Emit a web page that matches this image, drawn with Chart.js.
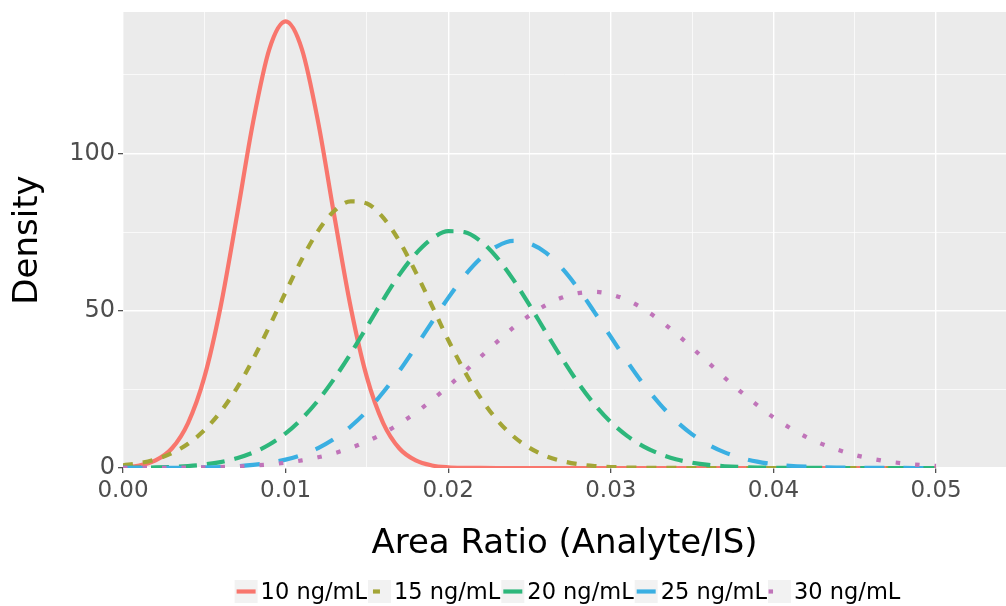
<!DOCTYPE html>
<html>
<head>
<meta charset="utf-8">
<title>Density</title>
<script src="https://cdn.jsdelivr.net/npm/chart.js@4.4.1/dist/chart.umd.min.js"></script>
<style>
  html, body { margin: 0; padding: 0; background: #ffffff; }
  #chart { display: block; }
</style>
</head>
<body>
<canvas id="chart" width="1006" height="606"></canvas>
<script>
// values
const xValues = [
  0.000, 0.001, 0.002, 0.003, 0.004, 0.005, 0.006, 0.007, 0.008, 0.009,
  0.010, 0.011, 0.012, 0.013, 0.014, 0.015, 0.016, 0.017, 0.018, 0.019,
  0.020, 0.021, 0.022, 0.023, 0.024, 0.025, 0.026, 0.027, 0.028, 0.029,
  0.030, 0.031, 0.032, 0.033, 0.034, 0.035, 0.036, 0.037, 0.038, 0.039,
  0.040, 0.041, 0.042, 0.043, 0.044, 0.045, 0.046, 0.047, 0.048, 0.049,
  0.050
];

const seriesLabels = ['10 ng/mL', '15 ng/mL', '20 ng/mL', '25 ng/mL', '30 ng/mL'];

const density10 = [
  0.24, 0.81, 2.4, 6.2, 14.3, 28.8, 51.2, 80.0, 110.0, 133.2,
  142.0, 133.2, 110.0, 80.0, 51.2, 28.8, 14.3, 6.2, 2.4, 0.81,
  0.24, 0.06, 0.01, 0, 0, 0, 0, 0, 0, 0,
  0, 0, 0, 0, 0, 0, 0, 0, 0, 0,
  0, 0, 0, 0, 0, 0, 0, 0, 0, 0,
  0
];
const density15 = [
  0.83, 1.55, 2.77, 4.72, 7.70, 12.0, 17.9, 25.4, 34.6, 45.0,
  55.9, 66.4, 75.4, 81.8, 84.8, 84.1, 79.6, 72.1, 62.3, 51.6,
  40.7, 30.8, 22.2, 15.3, 10.1, 6.4, 3.8, 2.2, 1.21, 0.64,
  0.32, 0.15, 0.07, 0.03, 0.01, 0, 0, 0, 0, 0,
  0, 0, 0, 0, 0, 0, 0, 0, 0, 0,
  0
];
const density20 = [
  0.05, 0.09, 0.18, 0.35, 0.63, 1.11, 1.88, 3.09, 4.89, 7.47,
  11.0, 15.7, 21.5, 28.5, 36.4, 44.9, 53.5, 61.5, 68.1, 72.9,
  75.3, 75.0, 72.1, 66.9, 59.9, 51.8, 43.2, 34.8, 27.0, 20.2,
  14.6, 10.2, 6.9, 4.5, 2.8, 1.70, 0.99, 0.56, 0.30, 0.16,
  0.08, 0.04, 0.02, 0.01, 0, 0, 0, 0, 0, 0,
  0
];
const density25 = [
  0.01, 0.01, 0.02, 0.05, 0.09, 0.17, 0.32, 0.57, 0.99, 1.65,
  2.67, 4.18, 6.33, 9.29, 13.2, 18.1, 24.1, 30.9, 38.5, 46.4,
  54.1, 61.1, 66.7, 70.5, 72.2, 71.4, 68.5, 63.5, 57.0, 49.5,
  41.7, 33.9, 26.7, 20.4, 15.0, 10.7, 7.4, 4.96, 3.21, 2.01,
  1.22, 0.72, 0.41, 0.22, 0.12, 0.06, 0.03, 0.01, 0.01, 0,
  0
];
const density30 = [
  0.01, 0.03, 0.05, 0.08, 0.13, 0.20, 0.32, 0.50, 0.77, 1.15,
  1.68, 2.42, 3.41, 4.71, 6.38, 8.47, 11.0, 14.1, 17.6, 21.6,
  26.0, 30.6, 35.4, 40.1, 44.6, 48.5, 51.8, 54.2, 55.6, 56.0,
  55.2, 53.4, 50.6, 47.0, 42.8, 38.2, 33.5, 28.7, 24.2, 20.0,
  16.1, 12.8, 9.9, 7.6, 5.7, 4.15, 2.98, 2.10, 1.45, 0.98,
  0.65
];

const xMajorTicks = [0, 0.01, 0.02, 0.03, 0.04, 0.05];
const xTickLabels = ['0.00', '0.01', '0.02', '0.03', '0.04', '0.05'];
const xMinorTicks = [0.005, 0.015, 0.025, 0.035, 0.045];
const yMajorTicks = [0, 50, 100];
const yTickLabels = ['0', '50', '100'];
const yMinorTicks = [25, 75, 125];

const seriesColors = ['#F8766D', '#A3A536', '#2DB77B', '#3AAFE2', '#C074B9'];
const seriesDashes = [[], [10, 10], [18, 10], [20, 19], [4.5, 15]];
// line piece drawn inside each 23px legend key
const keySegments = [[2, 21], [5, 12], [2, 21], [2, 21], [0.5, 5]];

const FONT = 'DejaVu Sans';
Chart.defaults.font.family = FONT;

function tickList(major, minor) {
  return major.map(v => ({ value: v, minor: false }))
    .concat(minor.map(v => ({ value: v, minor: true })))
    .sort((a, b) => a.value - b.value);
}

function gridOptions() {
  return {
    color: '#FFFFFF',
    lineWidth: c => (c.tick && c.tick.minor ? 0.7 : 1.4),
    tickLength: 5,
    tickWidth: 1.1,
    tickColor: c => (c.tick && c.tick.minor ? 'rgba(0,0,0,0)' : '#333333')
  };
}

const panelBackground = {
  id: 'panelBackground',
  beforeDraw(chart) {
    const { ctx, chartArea: a } = chart;
    ctx.save();
    ctx.fillStyle = '#EBEBEB';
    ctx.fillRect(a.left, a.top, a.right - a.left, a.bottom - a.top);
    ctx.restore();
  }
};

const bottomLegend = {
  id: 'bottomLegend',
  afterDraw(chart) {
    const ctx = chart.ctx;
    const sets = chart.data.datasets;
    ctx.save();
    ctx.font = '22.5px "' + FONT + '"';
    const widths = sets.map(d => ctx.measureText(d.label).width);
    const total = widths.reduce((s, w) => s + 27 + w, 0);
    let x = 568 - total / 2;
    sets.forEach((d, i) => {
      ctx.fillStyle = '#F2F2F2';
      ctx.fillRect(x, 580, 23, 23);
      ctx.strokeStyle = d.borderColor;
      ctx.lineWidth = 4.2;
      ctx.lineCap = 'butt';
      ctx.setLineDash([]);
      ctx.beginPath();
      ctx.moveTo(x + keySegments[i][0], 591.5);
      ctx.lineTo(x + keySegments[i][1], 591.5);
      ctx.stroke();
      ctx.fillStyle = '#000000';
      ctx.textBaseline = 'alphabetic';
      ctx.textAlign = 'left';
      ctx.fillText(d.label, x + 26, 599);
      x += 27 + widths[i];
    });
    ctx.restore();
  }
};

const allDensities = [density10, density15, density20, density25, density30];

const datasets = seriesLabels.map((label, i) => ({
  label: label,
  data: xValues.map((x, j) => ({ x: x, y: allDensities[i][j] })),
  borderColor: seriesColors[i],
  backgroundColor: seriesColors[i],
  borderDash: seriesDashes[i],
  borderWidth: 4.2,
  borderCapStyle: 'butt',
  pointRadius: 0,
  fill: false,
  cubicInterpolationMode: 'monotone',
  clip: 0,
  order: seriesLabels.length - 1 - i
}));

new Chart(document.getElementById('chart'), {
  type: 'line',
  data: { datasets: datasets },
  plugins: [panelBackground, bottomLegend],
  options: {
    responsive: false,
    animation: false,
    devicePixelRatio: 1,
    layout: { padding: { top: 12, left: 0, right: 0, bottom: 0 } },
    plugins: { legend: { display: false }, tooltip: { enabled: false } },
    scales: {
      x: {
        type: 'linear',
        min: 0,
        max: 0.0543,
        afterBuildTicks: s => { s.ticks = tickList(xMajorTicks, xMinorTicks); },
        afterFit: s => { s.height = 138; s.paddingLeft = 0; s.paddingRight = 0; },
        ticks: {
          autoSkip: false,
          maxRotation: 0,
          padding: 4,
          color: '#4D4D4D',
          font: { size: 23 },
          callback: v => {
            const i = xMajorTicks.indexOf(v);
            return i >= 0 ? xTickLabels[i] : '';
          }
        },
        grid: gridOptions(),
        border: { display: false },
        title: {
          display: true,
          text: 'Area Ratio (Analyte/IS)',
          color: '#000000',
          font: { size: 34 },
          padding: { top: 0, bottom: 41 }
        }
      },
      y: {
        type: 'linear',
        min: 0,
        max: 145,
        afterBuildTicks: s => { s.ticks = tickList(yMajorTicks, yMinorTicks); },
        afterFit: s => { s.width = 123; s.paddingTop = 0; s.paddingBottom = 0; },
        ticks: {
          autoSkip: false,
          padding: 3,
          color: '#4D4D4D',
          font: { size: 24 },
          callback: v => {
            const i = yMajorTicks.indexOf(v);
            return i >= 0 ? yTickLabels[i] : '';
          }
        },
        grid: gridOptions(),
        border: { display: false },
        title: {
          display: true,
          text: 'Density',
          color: '#000000',
          font: { size: 34 },
          padding: { top: 8, bottom: 0 }
        }
      }
    }
  }
});
</script>
</body>
</html>
